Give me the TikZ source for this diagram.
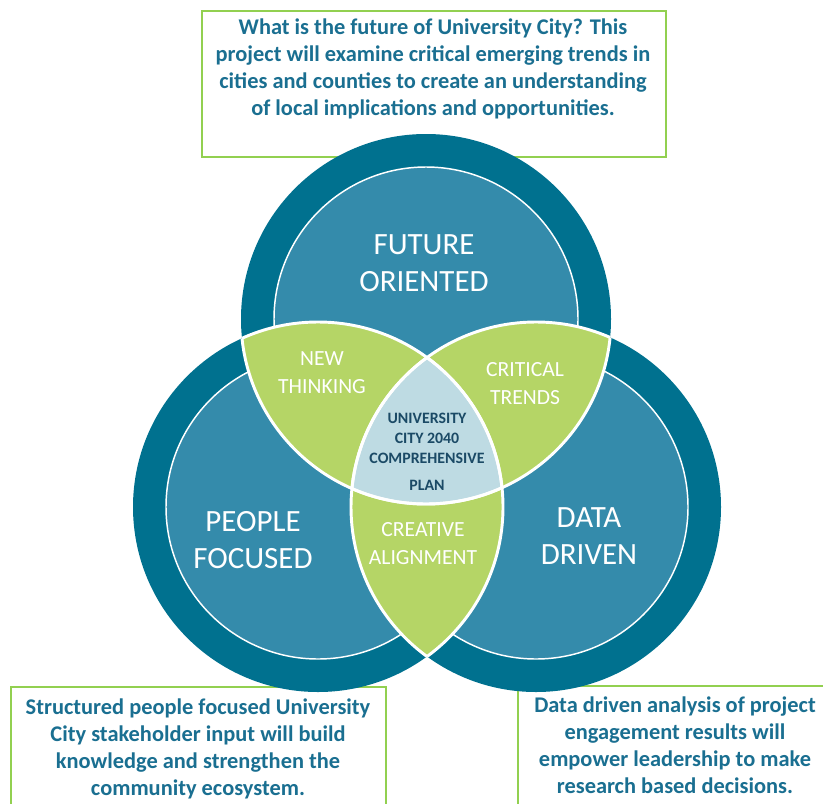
\documentclass[tikz,border=0pt]{standalone}
\usepackage{fontspec}
\setmainfont{Carlito}
\definecolor{ringteal}{HTML}{00718F}
\definecolor{innerteal}{HTML}{348BAB}
\definecolor{lensgreen}{HTML}{B5D566}
\definecolor{corepale}{HTML}{BEDBE3}
\definecolor{boxgreen}{HTML}{92D050}
\definecolor{boxtext}{HTML}{1A6F91}
\definecolor{coretext}{HTML}{1B4A66}
\begin{document}
\begin{tikzpicture}[x=0.75pt,y=-0.75pt,
  infobox/.style={draw=boxgreen,line width=1.4pt,fill=white,inner sep=0pt},
  infotext/.style={text=boxtext,font=\fontsize{16.8pt}{20.2pt}\selectfont\bfseries,align=center},
  bigtext/.style={text=white,font=\fontsize{23.2pt}{27.8pt}\selectfont,align=center},
  lenstext/.style={text=white,font=\fontsize{16.2pt}{21pt}\selectfont,align=center},
  coretxt/.style={text=coretext,font=\fontsize{11.9pt}{15pt}\selectfont\bfseries,align=center},
  outline/.style={draw=white,line width=2.2pt}]
\useasboundingbox (0,0) rectangle (823,803);

% circle centres
\coordinate (T) at (426,319);
\coordinate (L) at (318,507);
\coordinate (R) at (536,507);
\def\ro{138.75pt}
\def\ri{114pt}

% description boxes
\draw[infobox] (202,11) rectangle (666,157);
\draw[infobox] (11,687) rectangle (386,830);
\draw[infobox] (518,686) rectangle (840,830);

% outer rings
\foreach \c in {T,L,R} \fill[ringteal] (\c) circle[radius=\ro];
% inner discs
\foreach \c in {T,L,R} \filldraw[fill=innerteal,draw=white,line width=1.1pt] (\c) circle[radius=\ri];

% pairwise overlaps
\begin{scope}\clip (T) circle[radius=\ro]; \fill[lensgreen] (L) circle[radius=\ro]; \end{scope}
\begin{scope}\clip (T) circle[radius=\ro]; \fill[lensgreen] (R) circle[radius=\ro]; \end{scope}
\begin{scope}\clip (L) circle[radius=\ro]; \fill[lensgreen] (R) circle[radius=\ro]; \end{scope}
% central overlap
\begin{scope}\clip (T) circle[radius=\ro]; \clip (L) circle[radius=\ro]; \fill[corepale] (R) circle[radius=\ro]; \end{scope}

% white borders of the overlap regions
\foreach \a/\b in {T/L,T/R,L/T,L/R,R/T,R/L}{
  \begin{scope}\clip (\b) circle[radius=\ro]; \draw[outline] (\a) circle[radius=\ro]; \end{scope}
}

% labels
\node[infotext] (toptext) at (433,69) {What is the future of University City? This\\project will examine critical emerging trends in\\cities and counties to create an understanding\\of local implications and opportunities.};
\node[infotext] (lefttext) at (198,749) {Structured people focused University\\City stakeholder input will build\\knowledge and strengthen the\\community ecosystem.};
\node[infotext] (righttext) at (675,745) {Data driven analysis of project\\engagement results will\\empower leadership to make\\research based decisions.};

\node[bigtext] (future) at (424,263) {FUTURE\\ORIENTED};
\node[bigtext] (people) at (253,540) {PEOPLE\\FOCUSED};
\node[bigtext] (data) at (589,536) {DATA\\DRIVEN};

\node[lenstext] (newthink) at (322,373) {NEW\\THINKING};
\node[lenstext] (crit) at (525,384) {CRITICAL\\TRENDS};
\node[lenstext] (creative) at (423,544) {CREATIVE\\ALIGNMENT};

\node[coretxt] (core) at (427,452) {UNIVERSITY\\CITY 2040\\COMPREHENSIVE\\[5pt]PLAN};
\end{tikzpicture}
\end{document}
